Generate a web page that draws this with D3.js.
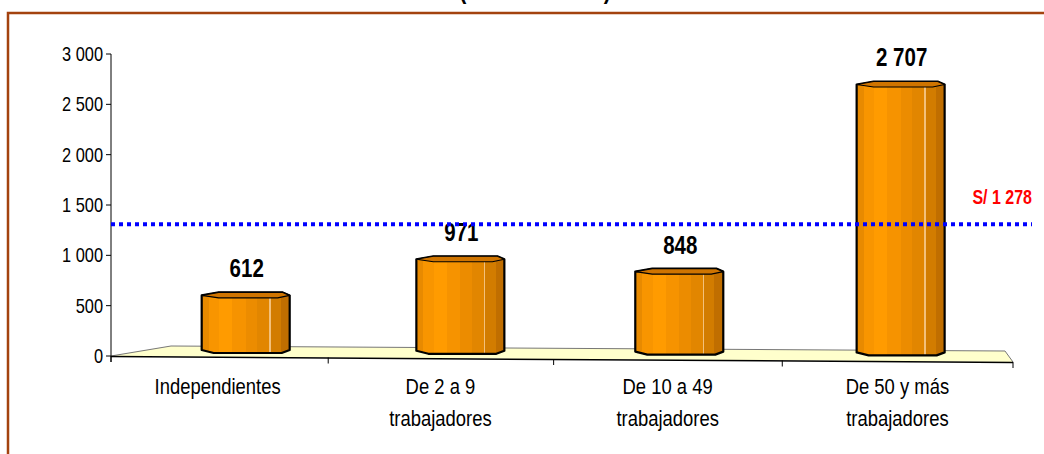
<!DOCTYPE html>
<html>
<head>
<meta charset="utf-8">
<script src="https://cdn.jsdelivr.net/npm/d3@7"></script>
<style>
  body { margin: 0; background: #fff; }
  svg text { font-family: "Liberation Sans", Arial, sans-serif; }
</style>
</head>
<body>
<svg></svg>
<script>
// data
var categories = ["Independientes", "De 2 a 9|trabajadores", "De 10 a 49|trabajadores", "De 50 y más|trabajadores"];
var values = [612, 971, 848, 2707];
var valueLabels = ["612", "971", "848", "2 707"];
var yTicks = [0, 500, 1000, 1500, 2000, 2500, 3000];
var refValue = 1278;
var refLabel = "S/ 1 278";
var titleText = "(Nuevos soles)";

var narrow = 0.82; // the chart uses a condensed face

window.onload = function(){
    var svg = d3.select("svg")
        .attr("width", 1044)
        .attr("height", 454);

    // write condensed text at x,y
    function ntext(x, yy, str, anchor, size, weight, fill){
        return svg.append("text")
            .attr("transform", "translate(" + x + "," + yy + ") scale(" + narrow + ",1)")
            .attr("text-anchor", anchor)
            .attr("font-size", size)
            .attr("font-weight", weight || "normal")
            .attr("fill", fill || "#000")
            .text(str);
    }

    // outer frame
    svg.append("rect")
        .attr("x", 8).attr("y", 13)
        .attr("width", 1100).attr("height", 500)
        .attr("fill", "none")
        .attr("stroke", "#a3420f")
        .attr("stroke-width", 2.5);

    // title, mostly above the picture (only the brackets peek in)
    ntext(535, -1.5, titleText, "middle", 26, "bold");

    var y = d3.scaleLinear().domain([0, 3000]).range([356, 54]);

    // slightly perspective category axis (front edge of the floor)
    var xFront = d3.scalePow().exponent(1.027).domain([0, 4]).range([111, 1013]);
    // mid depth, where the bars stand
    var xMid = d3.scalePow().exponent(1.027).domain([0, 4]).range([143, 1012]);
    var frontDrop = 6;
    var depthBack = 10;
    var barW = 88;
    var barShift = -2;

    // gradient for the cylinders
    var defs = svg.append("defs");
    var grad = defs.append("linearGradient").attr("id", "barGrad")
        .attr("x1", 0).attr("x2", 1).attr("y1", 0).attr("y2", 0);
    var stops = [
        [0, "#e88a00"], [0.08, "#e88a00"], [0.08, "#f89500"], [0.2, "#f89500"],
        [0.2, "#ff9b00"], [0.35, "#ff9b00"], [0.35, "#f69300"], [0.5, "#f69300"],
        [0.5, "#ec8c00"], [0.63, "#ec8c00"], [0.63, "#e28600"], [0.77, "#e28600"],
        [0.77, "#f3c07a"], [0.785, "#f3c07a"], [0.785, "#d27c00"], [0.9, "#d27c00"],
        [0.9, "#c06e00"], [1, "#c06e00"]
    ];
    stops.forEach(function(s){
        grad.append("stop").attr("offset", s[0]).attr("stop-color", s[1]);
    });

    // floor
    var fl = [xFront(0), y(0)], fr = [xFront(4), y(0) + frontDrop];
    var bl = [xFront(0) + 60, y(0) - depthBack], br = [xFront(4) - 8, y(0) - 5];
    svg.append("path")
        .attr("d", "M" + fl + "L" + bl + "L" + br + "L" + fr + "Z")
        .attr("fill", "#ffffcc")
        .attr("stroke", "none");
    svg.append("path")
        .attr("d", "M" + fl + "L" + bl + "L" + br + "L" + fr)
        .attr("fill", "none").attr("stroke", "#777").attr("stroke-width", 1);
    svg.append("line")
        .attr("x1", fl[0]).attr("y1", fl[1] + 0.5)
        .attr("x2", fr[0]).attr("y2", fr[1] + 0.5)
        .attr("stroke", "#000").attr("stroke-width", 1.5);

    // x ticks hanging from front edge
    svg.selectAll(".xtick")
        .data(d3.range(5)).enter()
        .append("line")
        .attr("class", "xtick")
        .attr("x1", function(d){ return xFront(d); })
        .attr("x2", function(d){ return xFront(d); })
        .attr("y1", function(d){ return y(0) + frontDrop * d / 4; })
        .attr("y2", function(d){ return y(0) + frontDrop * d / 4 + 6; })
        .attr("stroke", "#000").attr("stroke-width", 1);

    // y axis
    svg.append("line")
        .attr("x1", 111).attr("x2", 111)
        .attr("y1", y(3000)).attr("y2", y(0) + 6)
        .attr("stroke", "#000").attr("stroke-width", 1);
    svg.selectAll(".ytick")
        .data(yTicks).enter()
        .append("line")
        .attr("x1", 106).attr("x2", 111)
        .attr("y1", function(d){ return y(d); })
        .attr("y2", function(d){ return y(d); })
        .attr("stroke", "#000");
    yTicks.forEach(function(d){
        ntext(103, y(d) + 7, d3.format(",")(d).replace(/,/g, " "), "end", 20);
    });

    // bars as flat octagonal cylinders
    var bars = svg.selectAll(".bar")
        .data(values).enter()
        .append("g").attr("class", "bar");
    function barPath(d, i){
        var cx = xMid(i + 0.5);
        var x0 = cx - barW / 2, x1 = cx + barW / 2;
        var top = y(d) + barShift, bot = y(0) + barShift - 1 + i * 0.8;
        var bv = 3;
        return "M" + x0 + "," + (top + bv) +
            "L" + (x0 + 17) + "," + top +
            "L" + (x1 - 7) + "," + top +
            "L" + x1 + "," + (top + bv) +
            "L" + x1 + "," + (bot - bv) +
            "L" + (x1 - 8) + "," + bot +
            "L" + (x0 + 12) + "," + bot +
            "L" + x0 + "," + (bot - bv) + "Z";
    }
    bars.append("path")
        .attr("d", barPath)
        .attr("fill", "url(#barGrad)")
        .attr("stroke", "#000")
        .attr("stroke-width", 2.2)
        .attr("stroke-linejoin", "round");
    // top face
    bars.append("path")
        .attr("d", function(d, i){
            var cx = xMid(i + 0.5);
            var x0 = cx - barW / 2, x1 = cx + barW / 2;
            var top = y(d) + barShift;
            return "M" + x0 + "," + (top + 3) +
                "L" + (x0 + 17) + "," + top +
                "L" + (x1 - 7) + "," + top +
                "L" + x1 + "," + (top + 3) +
                "L" + (x1 - 12) + "," + (top + 5.5) +
                "L" + (x0 + 17) + "," + (top + 5.5) + "Z";
        })
        .attr("fill", "#cf7400")
        .attr("stroke", "#000")
        .attr("stroke-width", 1.2)
        .attr("stroke-linejoin", "round");

    // value labels
    values.forEach(function(d, i){
        ntext(xMid(i + 0.5) + 1, y(d) - 17, valueLabels[i], "middle", 25, "bold");
    });

    // category labels
    categories.forEach(function(d, i){
        d.split("|").forEach(function(line, k){
            ntext(xFront(i + 0.5), 394 + k * 32, line, "middle", 22.5);
        });
    });

    // reference line
    svg.append("line")
        .attr("x1", 111).attr("x2", 1032)
        .attr("y1", y(refValue) - 3).attr("y2", y(refValue) - 3)
        .attr("stroke", "#0000ff")
        .attr("stroke-width", 4)
        .attr("stroke-dasharray", "4,4");
    ntext(1032, y(refValue) - 23, refLabel, "end", 19.5, "bold", "#ff0000");
};
</script>
</body>
</html>
